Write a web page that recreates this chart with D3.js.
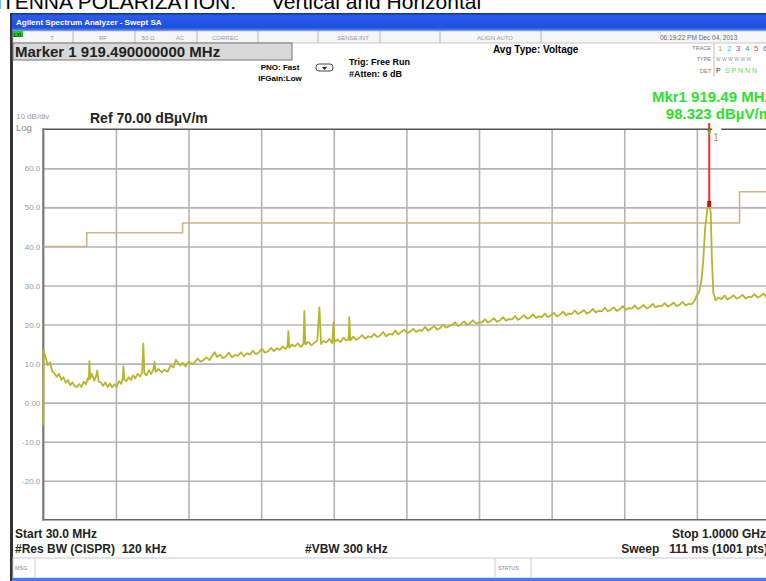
<!DOCTYPE html>
<html><head><meta charset="utf-8">
<script src="https://cdn.jsdelivr.net/npm/d3@7"></script>
<style>
html,body{margin:0;padding:0;background:#fff;overflow:hidden}
svg{display:block;font-family:"Liberation Sans",Arial,sans-serif}
</style></head>
<body><svg id="c" width="766" height="581"></svg>
<script>
// ---- data ----
const startMHz = 30, stopMHz = 1000;
const refLevel = 70, dbPerDiv = 10, divisions = 10;
const yTicks = [60, 50, 40, 30, 20, 10, 0, -10, -20];
const yTickLabels = ["60.0", "50.0", "40.0", "30.0", "20.0", "10.0", "0.00", "-10.0", "-20.0"];
const limitMHz = [30, 88, 216, 960, 1000];
const limitDb = [40, 43.5, 46, 54, 54];
const markerMHz = 919.49;
const markerReadout = ["Mkr1 919.49 MHz", "98.323 dBµV/m"];
const trace = [[30,-5.8],[30.4,13.5],[33,11.6],[36,9.6],[39,10.3],[42,8.0],[45,7.5],[48,6.6],[51,7.4],[54,5.8],[57,6.5],[60,5.1],[63,5.8],[66,4.5],[69,5.2],[72,4.2],[75,4.0],[78,4.8],[81,4.0],[84,5.4],[87,4.7],[89.5,6.3],[90.8,5.9],[91.6,10.6],[92.6,6.2],[95,7.4],[98,5.6],[100.5,6.8],[102,8.2],[104,5.4],[107,5.1],[110,4.3],[113,5.2],[116,4.0],[119,4.9],[122,3.9],[125,4.7],[128,4.0],[131,5.5],[134,4.8],[136,5.9],[137,9.3],[138.2,6.0],[141,5.5],[144,6.5],[147,5.8],[150,7.0],[153,6.2],[156,7.4],[159,6.7],[162,7.7],[163.6,15.2],[165,7.6],[168,7.0],[171,8.3],[174,7.3],[177,8.5],[178.5,10.4],
[180,7.9],[184,8.6],[188,7.8],[192,8.4],[196,7.9],[200,9.5],[204,9.0],[207,11.0],[210,10.2],[213,9.5],[216,10.2],[220,9.3],[224,10.5],[228,10.0],[232,10.2],[236,11.3],[240,10.5],[244,10.9],[248,11.6],[252,10.9],[256,12.1],[259,12.9],[262,11.7],[266,12.3],[270,11.4],[274,11.9],[278,12.8],[282,11.6],[286,12.2],[290,12.0],[294,12.9],[298,11.9],[302,12.6],[306,12.3],[310,13.3],[314,12.4],[318,12.9],[322,13.8],[326,12.8],[330,13.1],[334,14.0],[338,13.2],[342,13.9],[346,13.5],[350,14.4],[354,13.7],[356.2,14.5],[357.3,18.3],[358.6,14.1],[362,14.9],[366,14.4],[370,15.2],[374,14.3],[377.5,15.1],[378.7,23.4],[380,14.9],[384,15.6],[388,14.7],[392,15.3],[396,15.9],[398.8,24.4],[401,15.0],[404,15.8],[408,15.4],[412,16.3],[416,15.2],[417.5,20.6],[419,15.6],[423,16.1],[427,15.5],[431,16.6],[435,15.9],[437.8,16.2],[438.8,21.9],[440,15.9],[444,16.9],[448,16.1],[452,16.6],[456,17.3],[460,16.4],[464,17.0],[468,16.7],[472,17.6],[476,16.8],[480,17.2],[484,18.1],[488,17.0],[492,17.6],[496,17.4],[500,18.5],[504,17.5],[508,18.1],[512,18.7],[516,17.8],[520,18.2],[524,18.9],[528,18.1],[532,18.6],[536,18.4],[540,19.4],[544,18.4],[548,19.0],[552,19.6],[556,18.7],[560,19.1],[564,20.0],[568,19.2],[572,19.6],[576,19.9],[580,20.6],[584,19.6],[588,20.1],[592,20.8],[596,19.9],[600,20.3],[604,21.1],[608,20.2],[612,20.6],[616,20.5],[620,21.4],[624,20.5],[628,21.0],[632,21.6],[636,20.7],[640,21.1],[644,21.9],[648,21.0],[652,21.4],[656,21.3],[660,22.2],[664,21.2],[668,21.7],[672,22.4],[676,21.5],[680,21.8],[684,22.6],[688,21.7],[692,22.1],[696,21.9],[700,22.8],[704,21.9],[708,22.4],[712,23.0],[716,22.1],[720,22.5],[724,23.3],[728,22.4],[732,22.8],[736,22.7],[740,23.6],[744,22.7],[748,23.1],[752,23.7],[756,22.8],[760,23.2],[764,24.0],[768,23.1],[772,23.5],[776,23.4],[780,24.3],[784,23.4],[788,23.8],[792,24.4],[796,23.5],[800,23.9],[804,24.7],[808,23.8],[812,24.2],[816,24.1],[820,24.9],[824,24.0],[828,24.4],[832,25.0],[836,24.1],[840,24.5],[844,25.3],[848,24.4],[852,24.8],[856,24.7],[860,25.5],[864,24.6],[868,25.0],[872,25.6],[876,24.7],[880,25.1],[884,25.8],[888,24.9],[892,25.3],[896,25.2],[900,26.1],
[903,27.6],[906,28.3],[909,31.0],[911.5,36.3],[914,44.6],[917,49.7],[919.49,50.9],[921.5,48.6],[923,37.0],[925,28.1],[928,26.2],[932,26.9],[936,26.5],[940,27.4],[944,26.4],[948,26.9],[952,27.5],[956,26.6],[960,27.0],[964,27.6],[968,26.7],[972,27.1],[976,27.0],[980,27.8],[984,26.9],[988,27.3],[992,27.9],[996,27.0],[1000,27.4]];

// ---- drawing ----
const svg = d3.select("#c");
const L = 43.3, R = 769.5, T = 129.3, B = 519.8;
const x = d3.scaleLinear().domain([startMHz, stopMHz]).range([L, R]);
const y = d3.scaleLinear().domain([refLevel - dbPerDiv * divisions, refLevel]).range([B, T]);

function txt(g, s, px, py, o) {
  o = o || {};
  return g.append("text").attr("x", px).attr("y", py).text(s)
    .attr("font-size", o.size || 10).attr("font-weight", o.bold ? "bold" : "normal")
    .attr("fill", o.fill || "#000").attr("text-anchor", o.anchor || "start");
}

// top caption (partly cut off)
txt(svg, "ANTENNA POLARIZATION:", 236, 9, {size: 21, anchor: "end"});
txt(svg, "Vertical and Horizontal", 271, 9, {size: 21});

// window frame
svg.append("rect").attr("x", 10).attr("y", 13).attr("width", 3).attr("height", 568).attr("fill", "#333");
const grad = svg.append("defs").append("linearGradient").attr("id", "tb").attr("x1", 0).attr("y1", 0).attr("x2", 0).attr("y2", 1);
grad.append("stop").attr("offset", "0").attr("stop-color", "#0a2f9e");
grad.append("stop").attr("offset", "0.15").attr("stop-color", "#2a5ce8");
grad.append("stop").attr("offset", "0.8").attr("stop-color", "#1e4fe0");
grad.append("stop").attr("offset", "1").attr("stop-color", "#5f8cf0");
svg.append("rect").attr("x", 12).attr("y", 13).attr("width", 760).attr("height", 18).attr("fill", "url(#tb)");
txt(svg, "Agilent Spectrum Analyzer - Swept SA", 16, 25, {size: 8, bold: true, fill: "#fff"});

// status row
svg.append("rect").attr("x", 13).attr("y", 31).attr("width", 760).attr("height", 12).attr("fill", "#f6f6f6").attr("stroke", "#bbb").attr("stroke-width", 0.8);
svg.append("rect").attr("x", 13).attr("y", 31).attr("width", 10).attr("height", 6).attr("fill", "#22cc22");
txt(svg, "LXI", 14, 37, {size: 5, fill: "#000"});
[73, 135, 197, 258, 318, 380, 440, 541].forEach(d => svg.append("line").attr("x1", d).attr("x2", d).attr("y1", 31).attr("y2", 43).attr("stroke", "#aaa").attr("stroke-width", 0.8));
const statusItems = [["T", 52], ["RF", 103], ["50 Ω", 148], ["AC", 180], ["CORREC", 225], ["SENSE:INT", 353], ["ALIGN AUTO", 495]];
statusItems.forEach(d => txt(svg, d[0], d[1], 40, {size: 6, fill: "#999", anchor: "middle"}));
txt(svg, "06:19:22 PM Dec 04, 2013", 660, 40, {size: 6.5, fill: "#666"});

// marker box
svg.append("rect").attr("x", 13).attr("y", 43).attr("width", 279).attr("height", 17).attr("fill", "#d9d9d9").attr("stroke", "#777").attr("stroke-width", 1);
txt(svg, "Marker 1 919.490000000 MHz", 15, 57, {size: 15, bold: true, fill: "#222"});

txt(svg, "PNO: Fast", 280, 70, {size: 8, bold: true, anchor: "middle"});
txt(svg, "IFGain:Low", 280, 81, {size: 8, bold: true, anchor: "middle"});
svg.append("rect").attr("x", 316).attr("y", 64).attr("width", 17).attr("height", 7).attr("rx", 3).attr("fill", "#fff").attr("stroke", "#444").attr("stroke-width", 1);
svg.append("path").attr("d", "M322,67 L327,67 L324.5,70 Z").attr("fill", "#222");
txt(svg, "Trig: Free Run", 349, 65, {size: 9, bold: true});
txt(svg, "#Atten: 6 dB", 349, 77, {size: 9, bold: true});
txt(svg, "Avg Type: Voltage", 493, 53, {size: 10, bold: true});

txt(svg, "TRACE", 711, 50, {size: 5.5, fill: "#777", anchor: "end"});
txt(svg, "TYPE", 711, 61, {size: 5.5, fill: "#777", anchor: "end"});
txt(svg, "DET", 711, 73, {size: 5.5, fill: "#777", anchor: "end"});
svg.append("line").attr("x1", 714).attr("x2", 714).attr("y1", 43).attr("y2", 77).attr("stroke", "#bbb");
const traceNums = [["1", "#e8a020"], ["2", "#20c8e8"], ["3", "#e820e0"], ["4", "#30c030"], ["5", "#f04060"], ["6", "#9050f0"]];
traceNums.forEach((d, i) => txt(svg, d[0], 718 + i * 9, 51, {size: 8, fill: d[1]}));
txt(svg, "W W W W W W", 716, 61, {size: 5, fill: "#999"});
txt(svg, "P", 716, 73, {size: 7, fill: "#333"});
txt(svg, "S P N N N", 725, 73, {size: 7, fill: "#55dd55"});

// marker readout
txt(svg, markerReadout[0], 772, 102, {size: 15, bold: true, fill: "#2ee02e", anchor: "end"});
txt(svg, markerReadout[1], 772, 119, {size: 15, bold: true, fill: "#2ee02e", anchor: "end"});

txt(svg, "10 dB/div", 16, 119, {size: 8, fill: "#999"});
txt(svg, "Log", 16, 131, {size: 9.5, fill: "#888"});
txt(svg, "Ref 70.00 dBµV/m", 90, 123, {size: 14, bold: true, fill: "#222"});

// grid
const xGrid = d3.range(1, divisions).map(i => startMHz + i * (stopMHz - startMHz) / divisions);
const gy = svg.append("g").attr("transform", `translate(${L},0)`)
  .call(d3.axisLeft(y).tickValues(yTicks).tickSize(-(R - L)).tickFormat((d, i) => yTickLabels[i]));
gy.select(".domain").remove();
gy.selectAll(".tick line").attr("stroke", "#b4b4b4").attr("stroke-width", 1.6);
gy.selectAll(".tick text").attr("x", -3).attr("fill", "#999").attr("font-size", 8).attr("font-family", "Liberation Sans, Arial, sans-serif");
const gx = svg.append("g").attr("transform", `translate(0,${B})`)
  .call(d3.axisBottom(x).tickValues(xGrid).tickSize(-(B - T)).tickFormat(""));
gx.select(".domain").remove();
gx.selectAll(".tick line").attr("stroke", "#b4b4b4").attr("stroke-width", 1.6);

// borders
svg.append("line").attr("x1", L).attr("x2", 780).attr("y1", T).attr("y2", T).attr("stroke", "#555").attr("stroke-width", 1.5);
svg.append("line").attr("x1", L).attr("x2", 780).attr("y1", B).attr("y2", B).attr("stroke", "#666").attr("stroke-width", 1.5);
svg.append("line").attr("x1", L).attr("x2", L).attr("y1", T - 1).attr("y2", B + 1).attr("stroke", "#777").attr("stroke-width", 2.2);

// limit line
const limPts = limitMHz.map((f, i) => [f, limitDb[i]]);
svg.append("path").datum(limPts).attr("fill", "none").attr("stroke", "#cdb48c").attr("stroke-width", 1.6)
  .attr("d", d3.line().x(d => x(d[0])).y(d => y(d[1])).curve(d3.curveStepAfter));

// trace
svg.append("path").datum(trace).attr("fill", "none").attr("stroke", "#b6b52c").attr("stroke-width", 1.8).attr("stroke-linejoin", "round")
  .attr("d", d3.line().x(d => x(d[0])).y(d => y(d[1])));

// marker
const peak = trace.find(d => d[0] === markerMHz);
svg.append("line").attr("x1", x(markerMHz)).attr("x2", x(markerMHz)).attr("y1", 123).attr("y2", y(peak[1])).attr("stroke", "#ff2a2a").attr("stroke-width", 2);
svg.append("rect").attr("x", x(markerMHz) - 2).attr("y", y(peak[1]) - 3).attr("width", 4).attr("height", 6).attr("fill", "#c01010");
svg.append("rect").attr("x", x(markerMHz) + 3).attr("y", T - 2).attr("width", 9).attr("height", 4).attr("fill", "#fff");
svg.append("path").attr("d", `M${x(markerMHz) - 2},${T + 1} L${x(markerMHz) + 2},${T + 1} L${x(markerMHz)},${T + 7} Z`).attr("fill", "#30d030");
txt(svg, "1", x(markerMHz) + 4, T + 12, {size: 10, fill: "#a0a020"});

// bottom annotations
txt(svg, "Start 30.0 MHz", 15, 538, {size: 12, bold: true, fill: "#222"});
txt(svg, "#Res BW (CISPR)  120 kHz", 15, 553, {size: 12, bold: true, fill: "#222"}).style("white-space", "pre");
txt(svg, "#VBW 300 kHz", 305, 553, {size: 12, bold: true, fill: "#222"});
txt(svg, "Stop 1.0000 GHz", 766, 538, {size: 12, bold: true, fill: "#222", anchor: "end"});
txt(svg, "Sweep   111 ms (1001 pts)", 768, 553, {size: 12, bold: true, fill: "#222", anchor: "end"}).style("white-space", "pre");

// message bar
svg.append("rect").attr("x", 13).attr("y", 558).attr("width", 760).attr("height", 20).attr("fill", "#fff").attr("stroke", "#ccc").attr("stroke-width", 1);
[35, 495, 531].forEach(d => svg.append("line").attr("x1", d).attr("x2", d).attr("y1", 558).attr("y2", 578).attr("stroke", "#ccc"));
txt(svg, "MSG", 15, 570, {size: 5.5, fill: "#888"});
txt(svg, "STATUS", 498, 570, {size: 5.5, fill: "#888"});
svg.append("rect").attr("x", 12).attr("y", 578).attr("width", 760).attr("height", 3).attr("fill", "#4a7ae8");
</script></body></html>
